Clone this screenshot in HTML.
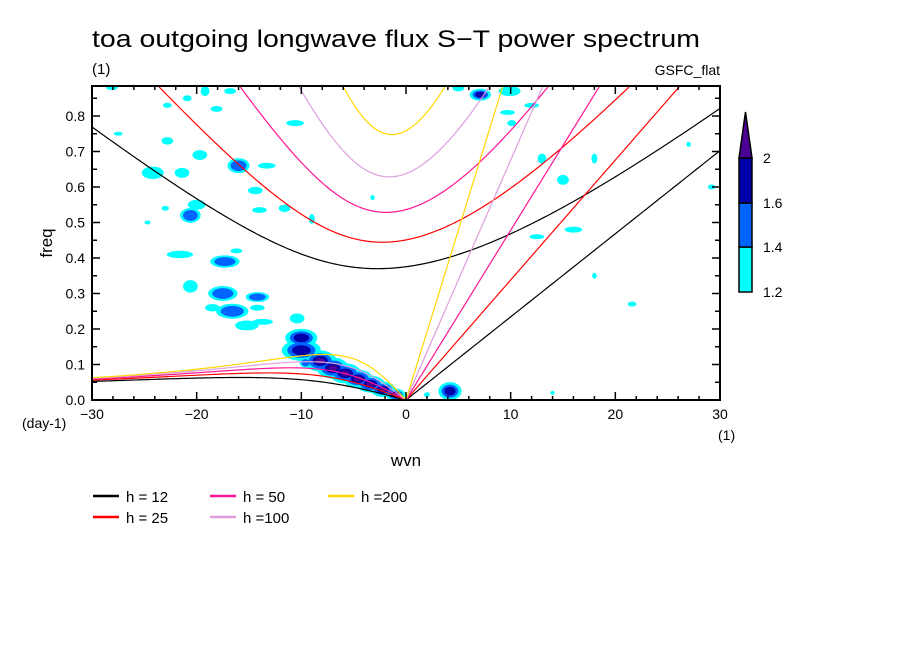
<!DOCTYPE html>
<html><head><meta charset="utf-8"><style>
html,body{margin:0;padding:0;background:#fff;}
svg{display:block;font-family:"Liberation Sans",sans-serif;}
</style></head><body>
<svg id="chart" width="904" height="654" viewBox="0 0 904 654" xmlns="http://www.w3.org/2000/svg">
<defs><clipPath id="pc"><rect x="92" y="86" width="628" height="314"/></clipPath></defs>
<rect width="904" height="654" fill="#fff"/>
<text x="92" y="47" font-size="24" textLength="608" lengthAdjust="spacingAndGlyphs">toa outgoing longwave flux S−T power spectrum</text>
<text x="92" y="74" font-size="15">(1)</text>
<text x="720" y="75" font-size="14" text-anchor="end">GSFC_flat</text>
<g id="blobs" clip-path="url(#pc)"></g>
<g id="curves" clip-path="url(#pc)"></g>
<rect x="92" y="86" width="628" height="314" fill="none" stroke="#000" stroke-width="2"/>
<g id="axes"></g>
<text x="52" y="243" font-size="17" text-anchor="middle" transform="rotate(-90 52 243)">freq</text>
<text x="406" y="466" font-size="17" text-anchor="middle">wvn</text>
<text x="22" y="428" font-size="14">(day-1)</text>
<text x="718" y="440" font-size="14">(1)</text>
<g id="cbar"></g>
<g id="legend"></g>
</svg>
<script>
const depths=[12,25,50,100,200];
const depthColors=["#000000","#ff0000","#ff1493","#dda0dd","#ffd700"];
const levels=[1.2,1.4,1.6,2];
const levelColors=["#00ffff","#0064ff","#0000a8","#4b0096"];
const xTicks=[-30,-20,-10,0,10,20,30];
const yTicks=[0,0.1,0.2,0.3,0.4,0.5,0.6,0.7,0.8];
const yTickLabels=["0.0","0.1","0.2","0.3","0.4","0.5","0.6","0.7","0.8"];
// blobs: wavenumber, frequency, contour level count (1-4), half-width (wvn), half-height (freq)
const blobWvn=[-28.1,-20.9,-19.2,-16.8,-22.8,-18.1,-10.6,-27.5,-22.8,-19.7,-24.2,-21.4,-16,-13.3,-14.4,-20,-20.6,-24.7,-23,-14,-11.6,-9,-21.6,-17.3,-16.2,-20.6,-17.5,-16.6,-18.5,-14.2,-14.2,-15.2,-13.7,-10.4,-3.2,
 7.1,5,9.9,12,9.7,10.1,13,18,15,16,12.5,29.2,18,21.6,27,4.2,14,2,
 -10,-10,-8.2,-7,-5.8,-4.6,-3.4,-2.2,-1,-9.6];
const blobFreq=[0.88,0.85,0.87,0.87,0.83,0.82,0.78,0.75,0.73,0.69,0.64,0.64,0.66,0.66,0.59,0.55,0.52,0.5,0.54,0.535,0.54,0.51,0.41,0.39,0.42,0.32,0.3,0.25,0.26,0.29,0.26,0.21,0.22,0.23,0.57,
 0.86,0.88,0.87,0.83,0.81,0.78,0.68,0.68,0.62,0.48,0.46,0.6,0.35,0.27,0.72,0.025,0.02,0.015,
 0.175,0.14,0.11,0.09,0.075,0.06,0.045,0.03,0.015,0.105];
const blobLvl=[1,1,1,1,1,1,1,1,1,1,1,1,2,1,1,1,2,1,1,1,1,1,1,2,1,1,2,2,1,2,1,1,1,1,1,
 3,1,1,1,1,1,1,1,1,1,1,1,1,1,1,3,1,1,
 3,3,4,4,4,4,4,4,4,2];
const blobW=[0.8,0.6,0.6,0.8,0.6,0.8,1.2,0.6,0.8,1,1.5,1,1.5,1.2,1,1.2,1.4,0.4,0.5,1,0.8,0.4,1.8,2,0.8,1,2,2.2,1,1.6,1,1.6,1.4,1,0.3,
 1.2,0.8,1.5,1,1,0.6,0.6,0.4,0.8,1.2,1,0.5,0.3,0.6,0.3,1.3,0.3,0.4,
 1.8,2.2,1.8,1.8,1.8,1.7,1.6,1.4,1.1,0.8];
const blobH=[0.01,0.012,0.02,0.012,0.01,0.012,0.012,0.008,0.015,0.02,0.025,0.02,0.03,0.012,0.015,0.02,0.03,0.008,0.01,0.012,0.015,0.02,0.015,0.025,0.01,0.025,0.03,0.03,0.015,0.02,0.012,0.02,0.012,0.02,0.01,
 0.02,0.015,0.02,0.01,0.01,0.012,0.02,0.02,0.02,0.012,0.01,0.01,0.012,0.01,0.01,0.03,0.008,0.01,
 0.03,0.035,0.035,0.035,0.033,0.03,0.028,0.025,0.02,0.02];

const X0=92,X1=720,Y0=400,Y1=86,XMIN=-30,XMAX=30,YMAX=0.8845;
const sx=v=>X0+(v-XMIN)/(XMAX-XMIN)*(X1-X0);
const sy=v=>Y0-v/YMAX*(Y0-Y1);
const NS="http://www.w3.org/2000/svg";
function mk(tag,attrs,parent){const e=document.createElementNS(NS,tag);for(const k in attrs)e.setAttribute(k,attrs[k]);parent.appendChild(e);return e;}

// blobs
const gB=document.getElementById('blobs');
const scales=[1,0.72,0.48,0.28];
for(let lv=0;lv<4;lv++){
 for(let i=0;i<blobWvn.length;i++){
  if(blobLvl[i]<=lv)continue;
  const shrink=blobLvl[i]>=3?0.85:0.7;
  const rx=blobW[i]*(X1-X0)/(XMAX-XMIN)*scales[lv]*shrink, ry=blobH[i]*(Y0-Y1)/YMAX*scales[lv]*shrink;
  const e=mk('ellipse',{cx:sx(blobWvn[i]),cy:sy(blobFreq[i]),rx:rx,ry:ry,fill:levelColors[lv]},gB);
  
  
 }
}

// dispersion
const A=6.371e6,BETA=2*7.292e-5/A,G=9.81,CPD=86400/(2*Math.PI);
function cubicRoot(k,c,w){for(let it=0;it<60;it++){const f=w*w*w-(c*c*k*k+3*BETA*c)*w-BETA*c*c*k;const d=3*w*w-(c*c*k*k+3*BETA*c);if(d===0)break;w=w-f/d;}return w;}
const gC=document.getElementById('curves');
depths.forEach((h,j)=>{
 const c=Math.sqrt(G*h);
 let ig=[],er=[],kv=[];
 for(let s=-30;s<=30.001;s+=0.25){const k=s/A;let w=cubicRoot(k,c,Math.sqrt(c*c*k*k+3*BETA*c)*1.05);ig.push([s,w*CPD]);}
 for(let s=-30;s<=0.001;s+=0.25){const k=s/A;let w0=-BETA*k/(k*k+3*BETA/c);let w=cubicRoot(k,c,w0);er.push([s,Math.abs(w)*CPD]);}
 for(let s=0;s<=30.001;s+=0.5){kv.push([s,c*(s/A)*CPD]);}
 [[ig,'ig'],[er,'er'],[kv,'kelvin']].forEach(([pts,nm])=>{
  const d=pts.map((p,i)=>(i?'L':'M')+sx(p[0]).toFixed(2)+' '+sy(Math.min(p[1],YMAX*1.5)).toFixed(2)).join('');
  const p=mk('path',{d:d,fill:'none',stroke:depthColors[j],'stroke-width':1.2},gC);
  
  
 });
});

// axes
const gA=document.getElementById('axes');
for(let v=-30;v<=30;v+=2){const L=(v%10===0)?8:4;
 mk('line',{x1:sx(v),x2:sx(v),y1:Y0,y2:Y0-L,stroke:'#000','stroke-width':1.5},gA);
 mk('line',{x1:sx(v),x2:sx(v),y1:Y1,y2:Y1+L,stroke:'#000','stroke-width':1.5},gA);}
for(let i=0;i<=17;i++){const v=i*0.05;const L=(i%2===0)?8:5;
 mk('line',{x1:X0,x2:X0+L,y1:sy(v),y2:sy(v),stroke:'#000','stroke-width':1.5},gA);
 mk('line',{x1:X1,x2:X1-L,y1:sy(v),y2:sy(v),stroke:'#000','stroke-width':1.5},gA);}
xTicks.forEach(v=>{const t=mk('text',{x:sx(v),y:419,'font-size':14,'text-anchor':'middle'},gA);t.textContent=(v<0?'−':'')+Math.abs(v);
 
 });
yTicks.forEach((v,i)=>{const t=mk('text',{x:85,y:sy(v)+5,'font-size':14,'text-anchor':'end'},gA);t.textContent=yTickLabels[i];
 
 });

// colorbar
const gK=document.getElementById('cbar');
const cbY=[292,247,203,158,112];
for(let i=0;i<3;i++){const r=mk('rect',{x:739,y:cbY[i+1],width:13,height:cbY[i]-cbY[i+1],fill:levelColors[i],stroke:'#000','stroke-width':1.5},gK);
 
 }
const tri=mk('polygon',{points:`739,${cbY[3]} 752,${cbY[3]} 745.5,${cbY[4]}`,fill:levelColors[3],stroke:'#000','stroke-width':1.5},gK);


levels.forEach((v,i)=>{const t=mk('text',{x:763,y:cbY[i===3?3:i]+5,'font-size':14},gK);t.textContent=String(v);
 
 });

// legend
const gL=document.getElementById('legend');
const legLabels=["h = 12","h = 25","h = 50","h =100","h =200"];
const legX=[63,63,180,180,298],legY=[496,517,496,517,496];
depths.forEach((h,i)=>{
 const g=mk('g',{},gL);
 
 
 mk('line',{x1:legX[i]+30,x2:legX[i]+56,y1:legY[i],y2:legY[i],stroke:depthColors[i],'stroke-width':2.5},g);
 const t=mk('text',{x:legX[i]+63,y:legY[i]+6,'font-size':15},g);t.textContent=legLabels[i];
});
</script>
</body></html>
